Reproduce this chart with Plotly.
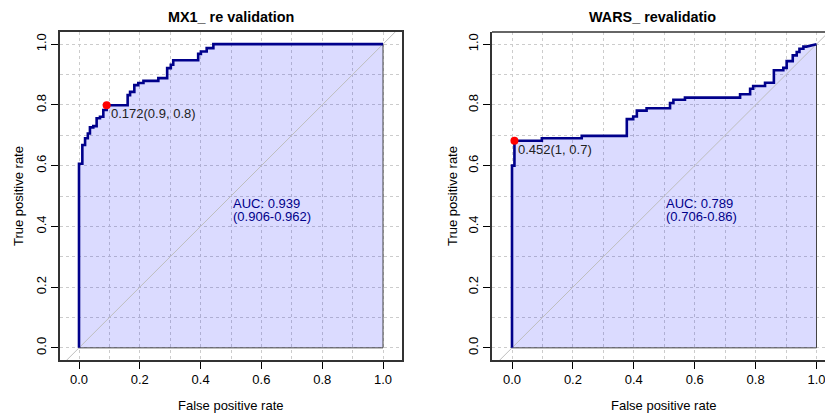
import plotly.graph_objects as go

# ---- ROC data: step points (false positive rate, true positive rate) ----
mx1_fpr = [0.0, 0.011, 0.020, 0.029, 0.036, 0.047, 0.058, 0.069, 0.080, 0.091,
           0.160, 0.168, 0.182, 0.195, 0.212, 0.261, 0.290, 0.302, 0.310,
           0.392, 0.401, 0.420, 0.442]
mx1_tpr = [0.606, 0.668, 0.690, 0.706, 0.726, 0.730, 0.756, 0.761, 0.783, 0.799,
           0.832, 0.843, 0.865, 0.872, 0.879, 0.888, 0.921, 0.932, 0.947,
           0.968, 0.976, 0.987, 1.0]
mx1_tail_fpr = [1.0]
mx1_tail_tpr = [1.0]

wars_fpr = [0.0, 0.008, 0.098, 0.229, 0.377, 0.398, 0.410, 0.442, 0.519, 0.530,
            0.568, 0.749, 0.782, 0.792, 0.831, 0.860, 0.891, 0.902, 0.922,
            0.935, 0.944, 0.957]
wars_tpr = [0.600, 0.682, 0.690, 0.698, 0.753, 0.762, 0.781, 0.789, 0.806, 0.817,
            0.824, 0.835, 0.853, 0.862, 0.873, 0.914, 0.922, 0.944, 0.963,
            0.974, 0.985, 0.992]
wars_tail_fpr = [0.967, 1.0]
wars_tail_tpr = [0.992, 1.0]

# best thresholds: (threshold, specificity, sensitivity)
mx1_best = (0.172, 0.909, 0.799)
wars_best = (0.452, 0.992, 0.682)

# AUC with confidence interval
mx1_auc = (0.939, 0.906, 0.962)
wars_auc = (0.789, 0.706, 0.86)

titles = ["MX1_ re validation", "WARS_ revalidatio"]
tick_vals = [0.0, 0.2, 0.4, 0.6, 0.8, 1.0]

W, H = 825, 414
FONT = "Liberation Sans, Arial, sans-serif"
CURVE = "#00008B"
FILL = "rgba(0,0,255,0.14)"
GRID = "#CCCCCC"


def staircase(fpr, tpr, tail_f, tail_t):
    xs, ys = [0.0], [0.0]
    for x, y in zip(fpr, tpr):
        xs += [x, x]
        ys += [ys[-1], y]
    xs += list(tail_f)
    ys += list(tail_t)
    return xs, ys


def r_num(v):
    return f"{round(v, 1):g}"


fig = go.Figure()

panels = [
    dict(fpr=mx1_fpr, tpr=mx1_tpr, tf=mx1_tail_fpr, tt=mx1_tail_tpr,
         best=mx1_best, auc=mx1_auc, xa="x", ya="y"),
    dict(fpr=wars_fpr, tpr=wars_tpr, tf=wars_tail_fpr, tt=wars_tail_tpr,
         best=wars_best, auc=wars_auc, xa="x2", ya="y2"),
]

for p in panels:
    xs, ys = staircase(p["fpr"], p["tpr"], p["tf"], p["tt"])
    # shaded area under the curve
    fig.add_trace(go.Scatter(
        x=xs + [1.0, 0.0], y=ys + [0.0, 0.0], mode="lines",
        fill="toself", fillcolor=FILL,
        line=dict(color="#444444", width=1),
        xaxis=p["xa"], yaxis=p["ya"], hoverinfo="skip", showlegend=False))
    # chance diagonal
    fig.add_trace(go.Scatter(
        x=[-0.1, 1.1], y=[-0.1, 1.1], mode="lines",
        line=dict(color="#BEBEBE", width=1),
        xaxis=p["xa"], yaxis=p["ya"], hoverinfo="skip", showlegend=False))
    # ROC curve
    fig.add_trace(go.Scatter(
        x=xs, y=ys, mode="lines", line=dict(color=CURVE, width=2.6),
        xaxis=p["xa"], yaxis=p["ya"], showlegend=False))
    thr, spec, sens = p["best"]
    fig.add_trace(go.Scatter(
        x=[1 - spec], y=[sens], mode="markers",
        marker=dict(color="#FF0000", size=8),
        xaxis=p["xa"], yaxis=p["ya"], showlegend=False))
    fig.add_annotation(
        x=1 - spec, y=sens, xref=p["xa"], yref=p["ya"],
        text=f"{thr}({r_num(spec)}, {r_num(sens)})",
        showarrow=False, xanchor="left", yanchor="top",
        xshift=2, yshift=1,
        font=dict(family=FONT, size=13, color="#222222"))
    a, lo, hi = p["auc"]
    for i, line in enumerate([f"AUC: {a}", f"({lo}-{hi})"]):
        fig.add_annotation(
            x=0.5, y=0.5, xref=p["xa"], yref=p["ya"], text=line,
            showarrow=False, xanchor="left", yanchor="top", align="left",
            yshift=2 - 13.4 * i,
            font=dict(family=FONT, size=13, color=CURVE))


def px_x(px):
    return px / W


def px_y(py):
    return 1 - py / H


axis_common = dict(
    tickvals=tick_vals, tickformat=".1f", ticks="outside", ticklen=7,
    tickcolor="#000000", tickwidth=1, ticklabeloverflow="allow",
    tickfont=dict(family=FONT, size=13, color="#000000"),
    showgrid=True, gridcolor=GRID, griddash="3px,3px", gridwidth=1,
    minor=dict(dtick=0.1, tick0=0, showgrid=True, gridcolor=GRID,
               griddash="3px,3px", gridwidth=1, ticks=""),
    zeroline=False, showline=True, linecolor="#333333", linewidth=1.5,
)

y_dom = [px_y(360), px_y(32)]

fig.update_layout(
    width=W, height=H, autosize=False,
    margin=dict(l=0, r=0, t=0, b=0),
    paper_bgcolor="white", plot_bgcolor="white",
    xaxis=dict(domain=[px_x(60), px_x(402)], range=[-0.0625, 1.0625],
               anchor="y", mirror=True, **axis_common),
    yaxis=dict(domain=y_dom, range=[-0.04, 1.04], anchor="x",
               mirror=True, tickangle=-90, **axis_common),
    xaxis2=dict(domain=[px_x(492), 1.0], range=[-0.0657, 1.0279],
                anchor="y2", mirror=False, **axis_common),
    yaxis2=dict(domain=y_dom, range=[-0.04, 1.04], anchor="x2",
                mirror=False, tickangle=-90, **axis_common),
)

# top edge of the second frame
fig.add_shape(type="line", xref="x2 domain", yref="y2 domain",
              x0=0, x1=1, y0=1, y1=1, line=dict(color="#333333", width=1.5))

# titles and axis labels
for cx, t in zip([231, 652], titles):
    fig.add_annotation(x=px_x(cx), y=px_y(17), xref="paper", yref="paper",
                       text=f"<b>{t}</b>", showarrow=False,
                       xanchor="center", yanchor="middle",
                       font=dict(family=FONT, size=14.4, color="#000000"))
for cx in [231, 664]:
    fig.add_annotation(x=px_x(cx), y=px_y(405), xref="paper", yref="paper",
                       text="False positive rate", showarrow=False,
                       xanchor="center", yanchor="middle",
                       font=dict(family=FONT, size=13, color="#000000"))
for cx in [18, 452]:
    fig.add_annotation(x=px_x(cx), y=px_y(196), xref="paper", yref="paper",
                       text="True positive rate", showarrow=False, textangle=-90,
                       xanchor="center", yanchor="middle",
                       font=dict(family=FONT, size=13, color="#000000"))

fig.write_html("out.html")
